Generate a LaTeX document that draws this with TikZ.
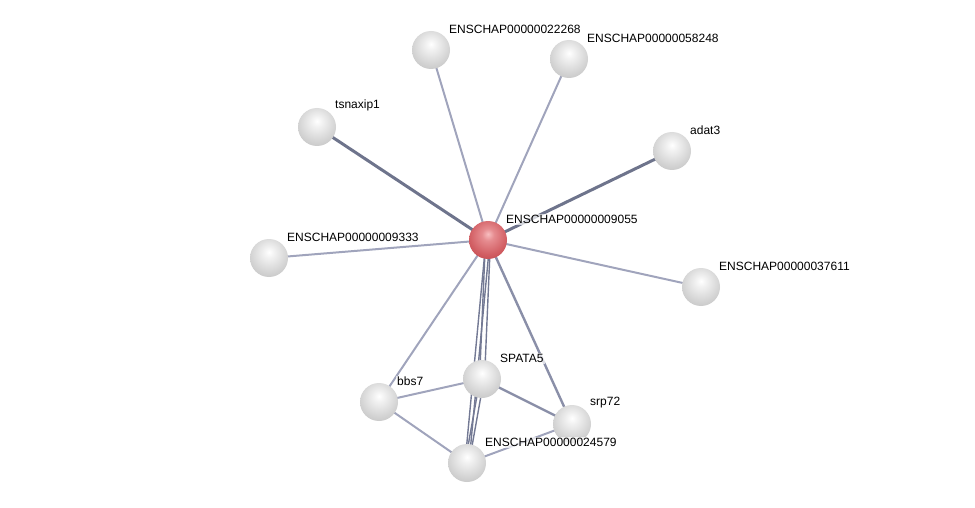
\documentclass[tikz,border=0pt]{standalone}
\usepackage{fontspec}
\setmainfont{Liberation Sans}
\pgfdeclareradialshading{gball}{\pgfpoint{0bp}{8bp}}{color(0bp)=(white); color(8bp)=(black!6); color(24bp)=(black!17); color(38bp)=(black!26); color(48bp)=(black!40); color(56bp)=(black!52); color(75bp)=(black!55)}
\pgfdeclareradialshading{rball}{\pgfpoint{0bp}{8bp}}{color(0bp)=(rgb,255:red,248;green,190;blue,192); color(8bp)=(rgb,255:red,230;green,140;blue,144); color(24bp)=(rgb,255:red,210;green,95;blue,100); color(38bp)=(rgb,255:red,190;green,65;blue,70); color(48bp)=(rgb,255:red,160;green,45;blue,50); color(56bp)=(rgb,255:red,135;green,30;blue,35); color(75bp)=(rgb,255:red,130;green,28;blue,32)}
\begin{document}
\begin{tikzpicture}[x=1pt,y=-1pt,
  prot/.style={circle,minimum size=38pt,inner sep=0pt,shading=gball},
  hub/.style={prot,shading=rball},
  lbl/.style={anchor=south west,inner sep=1pt,fill=white,fill opacity=0.7,text opacity=1,font=\fontsize{12pt}{14pt}\selectfont},
  lite/.style={draw={rgb,255:red,160;green,164;blue,188},line width=2pt},
  med/.style={draw={rgb,255:red,138;green,143;blue,168},line width=2.4pt},
  dark/.style={draw={rgb,255:red,110;green,116;blue,140},line width=3pt},
  thinl/.style={draw={rgb,255:red,115;green,121;blue,148},line width=1.4pt}]
\useasboundingbox (0,0) rectangle (975,508);
% node coordinates
\coordinate (c) at (488,240);
\coordinate (n1) at (431,50);
\coordinate (n2) at (569,59);
\coordinate (n3) at (317,127);
\coordinate (n4) at (672,151);
\coordinate (n5) at (269,258);
\coordinate (n6) at (701,287);
\coordinate (sp) at (482,379);
\coordinate (bb) at (379,402);
\coordinate (sr) at (572,424);
\coordinate (en) at (467,463);
% edges
\draw[lite] (c) -- (n1);
\draw[lite] (c) -- (n2);
\draw[dark] (c) -- (n3);
\draw[dark] (c) -- (n4);
\draw[lite] (c) -- (n5);
\draw[lite] (c) -- (n6);
\draw[lite] (c) -- (bb);
\draw[med] (c) -- (sr);
\draw[thinl] ([xshift=-2.5pt]c) -- ([xshift=-2.5pt]sp);
\draw[thinl] ([xshift=2.5pt]c) -- ([xshift=2.5pt]sp);
\draw[thinl] ([xshift=-2pt]c) -- ([xshift=-2pt]en);
\draw[thinl] ([xshift=2pt]c) -- ([xshift=2pt]en);
\draw[lite] (bb) -- (sp);
\draw[lite] (bb) -- (en);
\draw[med] (sp) -- (sr);
\draw[thinl] ([xshift=-2pt]sp) -- ([xshift=-2pt]en);
\draw[thinl] ([xshift=2pt]sp) -- ([xshift=2pt]en);
\draw[lite] (sr) -- (en);
% nodes
\node[prot] (N1) at (n1) {};
\node[prot] (N2) at (n2) {};
\node[prot] (N3) at (n3) {};
\node[prot] (N4) at (n4) {};
\node[prot] (N5) at (n5) {};
\node[prot] (N6) at (n6) {};
\node[prot] (SP) at (sp) {};
\node[prot] (BB) at (bb) {};
\node[prot] (SR) at (sr) {};
\node[prot] (EN) at (en) {};
\node[hub] (C) at (c) {};
% labels
\node[lbl] (L1) at (448,35) {ENSCHAP00000022268};
\node[lbl] (L2) at (586,44) {ENSCHAP00000058248};
\node[lbl] (L3) at (334,112) {tsnaxip1};
\node[lbl] (L4) at (689,136) {adat3};
\node[lbl] (L5) at (286,243) {ENSCHAP00000009333};
\node[lbl] (L6) at (718,272) {ENSCHAP00000037611};
\node[lbl] (LC) at (505,225) {ENSCHAP00000009055};
\node[lbl] (LS) at (499,364) {SPATA5};
\node[lbl] (LB) at (396,387) {bbs7};
\node[lbl] (LR) at (589,409) {srp72};
\node[lbl] (LE) at (484,448) {ENSCHAP00000024579};
\end{tikzpicture}
\end{document}
